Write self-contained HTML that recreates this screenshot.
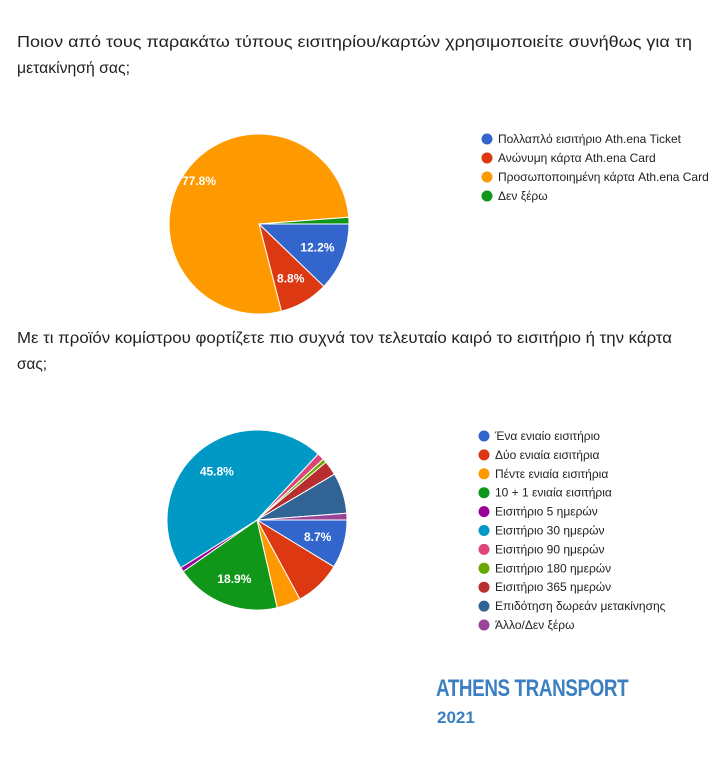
<!DOCTYPE html>
<html><head><meta charset="utf-8"><style>
body{margin:0;background:#fff;width:727px;height:769px;overflow:hidden;font-family:"Liberation Sans",sans-serif;}
.logo{position:absolute;left:436px;top:675px;font-family:"Liberation Sans Narrow","Liberation Sans",sans-serif;font-weight:bold;font-size:24px;color:#3c7fc0;letter-spacing:-0.5px;transform:scaleX(0.785);transform-origin:left}
.yr{position:absolute;left:437px;top:708px;font-weight:bold;font-size:17px;color:#3c7fc0}
</style></head><body>
<svg id="s" width="727" height="769" style="position:absolute;left:0;top:0">
<g font-family="Liberation Sans" font-size="16" fill="#202124">
<text x="17" y="47" textLength="675" lengthAdjust="spacingAndGlyphs">Ποιον από τους παρακάτω τύπους εισιτηρίου/καρτών χρησιμοποιείτε συνήθως για τη</text>
<text x="17" y="73" textLength="113" lengthAdjust="spacingAndGlyphs">μετακίνησή σας;</text>
<text x="17" y="343" textLength="655" lengthAdjust="spacingAndGlyphs">Με τι προϊόν κομίστρου φορτίζετε πιο συχνά τον τελευταίο καιρό το εισιτήριο ή την κάρτα</text>
<text x="17" y="369" textLength="30" lengthAdjust="spacingAndGlyphs">σας;</text>
</g>
</svg>
<div class="logo">ATHENS TRANSPORT</div>
<div class="yr">2021</div>
<script>
const cats1=["Πολλαπλό εισιτήριο Ath.ena Ticket","Ανώνυμη κάρτα Ath.ena Card","Προσωποποιημένη κάρτα Ath.ena Card","Δεν ξέρω"];
const vals1=[12.2,8.8,77.8,1.2];
const cats2=["Ένα ενιαίο εισιτήριο","Δύο ενιαία εισιτήρια","Πέντε ενιαία εισιτήρια","10 + 1 ενιαία εισιτήρια","Εισιτήριο 5 ημερών","Εισιτήριο 30 ημερών","Εισιτήριο 90 ημερών","Εισιτήριο 180 ημερών","Εισιτήριο 365 ημερών","Επιδότηση δωρεάν μετακίνησης","Άλλο/Δεν ξέρω"];
const vals2=[8.7,8.4,4.3,18.9,0.8,45.8,1.3,0.7,2.6,7.3,1.2];
const colors=["#3366cc","#dc3912","#ff9900","#109618","#990099","#0099c6","#dd4477","#66aa00","#b82e2e","#316395","#994499"];
const NS="http://www.w3.org/2000/svg";
const svg=document.getElementById('s');
function mk(tag,attrs){const e=document.createElementNS(NS,tag);for(const k in attrs)e.setAttribute(k,attrs[k]);svg.appendChild(e);return e;}
function pie(cats,vals,cx,cy,r,lx,ly,step,id){
  const tot=vals.reduce((a,b)=>a+b,0);
  let a=90;
  vals.forEach((v,i)=>{
    const sw=v/tot*360,a2=a+sw;
    const p=(d)=>[cx+r*Math.sin(d*Math.PI/180),cy-r*Math.cos(d*Math.PI/180)];
    const [x1,y1]=p(a),[x2,y2]=p(a2);
    const el=mk('path',{d:`M${cx},${cy}L${x1},${y1}A${r},${r} 0 ${sw>180?1:0} 1 ${x2},${y2}Z`,fill:colors[i],stroke:'#fff','stroke-width':1});
    
    
    if(v>=8.5){
      const m=(a+sw/2)*Math.PI/180,k=v>50?0.82:0.7;
      const t=mk('text',{x:cx+r*k*Math.sin(m),y:cy-r*k*Math.cos(m)+4,'text-anchor':'middle','font-size':12,'font-weight':'bold',fill:'#fff','font-family':'Liberation Sans'});
      t.textContent=v.toFixed(1)+'%';
      
      
    }
    a=a2;
  });
  cats.forEach((c,i)=>{
    const y=ly+i*step;
    const d=mk('circle',{cx:lx,cy:y,r:5.5,fill:colors[i]});
    
    
    const t=mk('text',{x:lx+11,y:y+4,'font-size':12,fill:'#222','font-family':'Liberation Sans'});
    t.textContent=c;
    
    
  });
}
pie(cats1,vals1,259,224,90,487,139,19,'chart1');
pie(cats2,vals2,257,520,90,484,436,18.9,'chart2');
</script>
</body></html>
